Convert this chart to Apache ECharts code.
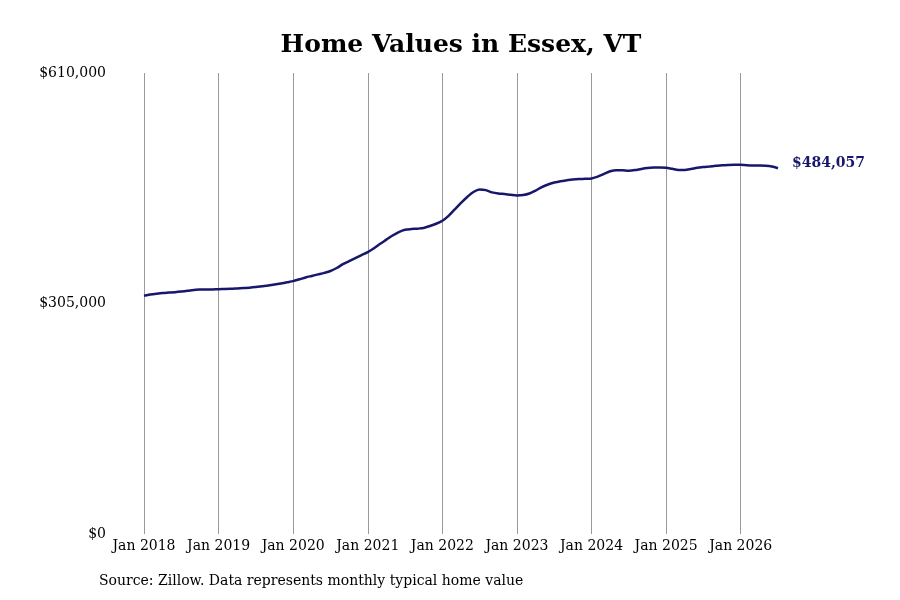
<!DOCTYPE html>
<html>
<head>
<meta charset="utf-8">
<script src="https://cdn.jsdelivr.net/npm/echarts@6/dist/echarts.min.js"></script>
<style>html,body{margin:0;padding:0;background:#fff}#c{width:900px;height:600px}</style>
</head>
<body>
<div id="c"></div>
<script>
const years = [2018, 2019, 2020, 2021, 2022, 2023, 2024, 2025, 2026];
const monthsLastYear = 7;
const values2018 = [315200, 316800, 318000, 319000, 319500, 320000, 320800, 321800, 323000, 323400, 323500, 323600];
const values2019 = [324000, 324200, 324500, 325000, 325500, 326000, 326800, 327800, 328800, 330000, 331400, 333000];
const values2020 = [334600, 337000, 339500, 341500, 343500, 345500, 348000, 352000, 357000, 361000, 365000, 369000];
const values2021 = [373000, 378000, 384000, 389500, 395000, 399500, 402500, 403500, 404000, 405000, 407500, 410500];
const values2022 = [414500, 421000, 429500, 438000, 446000, 452500, 455800, 455000, 452000, 450500, 449800, 448800];
const values2023 = [448000, 448500, 450500, 454500, 459000, 462500, 465000, 466800, 468000, 469000, 469600, 470000];
const values2024 = [470500, 472800, 476500, 480000, 481400, 481200, 480800, 481500, 483000, 484200, 484800, 485000];
const values2025 = [484700, 483200, 481800, 481800, 483000, 484500, 485500, 486300, 487200, 488000, 488400, 488600];
const values2026 = [488500, 488000, 487700, 487600, 487300, 486300, 484057];
const yTicks = [0, 305000, 610000];

const monthNames = ['Jan','Feb','Mar','Apr','May','Jun','Jul','Aug','Sep','Oct','Nov','Dec'];
const categories = [];
years.forEach((y, i) => {
  const n = i === years.length - 1 ? monthsLastYear : 12;
  for (let m = 0; m < n; m++) categories.push(monthNames[m] + ' ' + y);
});
const values = [].concat(values2018, values2019, values2020, values2021, values2022, values2023, values2024, values2025, values2026);

const fmt = v => '$' + v.toLocaleString('en-US');
const font = 'DejaVu Serif';
const navy = '#17176b';

const chart = echarts.init(document.getElementById('c'));
chart.setOption({
  backgroundColor: '#fff',
  animation: false,
  title: {
    text: 'Home Values in Essex, VT',
    left: 456, top: 28, textAlign: 'center',
    textStyle: { fontFamily: font, fontWeight: 'bold', fontSize: 25, color: '#000' }
  },
  graphic: [{
    type: 'text', left: 99, top: 574,
    style: { text: 'Source: Zillow. Data represents monthly typical home value', fontFamily: font, fontSize: 14, fill: '#000' }
  }],
  grid: { left: 144, right: 122, top: 73, bottom: 66 },
  xAxis: {
    type: 'category',
    data: categories,
    boundaryGap: false,
    axisLine: { show: false },
    axisTick: { show: false },
    axisLabel: {
      interval: 11, margin: 5,
      fontFamily: font, fontSize: 14, color: '#000',
      formatter: v => v
    },
    splitLine: { show: true, interval: 11, lineStyle: { color: '#999', width: 1 } }
  },
  yAxis: {
    type: 'value',
    min: yTicks[0], max: yTicks[2], interval: yTicks[1] - yTicks[0],
    axisLine: { show: false },
    axisTick: { show: false },
    splitLine: { show: false },
    axisLabel: { margin: 38, fontFamily: font, fontSize: 14, color: '#000', formatter: v => fmt(v) }
  },
  series: [{
    type: 'line',
    data: values,
    smooth: 0.3,
    showSymbol: false,
    lineStyle: { color: navy, width: 2.5 },
    endLabel: {
      show: true, distance: 14, offset: [0, -5],
      formatter: p => fmt(p.value),
      fontFamily: font, fontWeight: 'bold', fontSize: 14, color: navy
    }
  }]
});
</script>
</body>
</html>
